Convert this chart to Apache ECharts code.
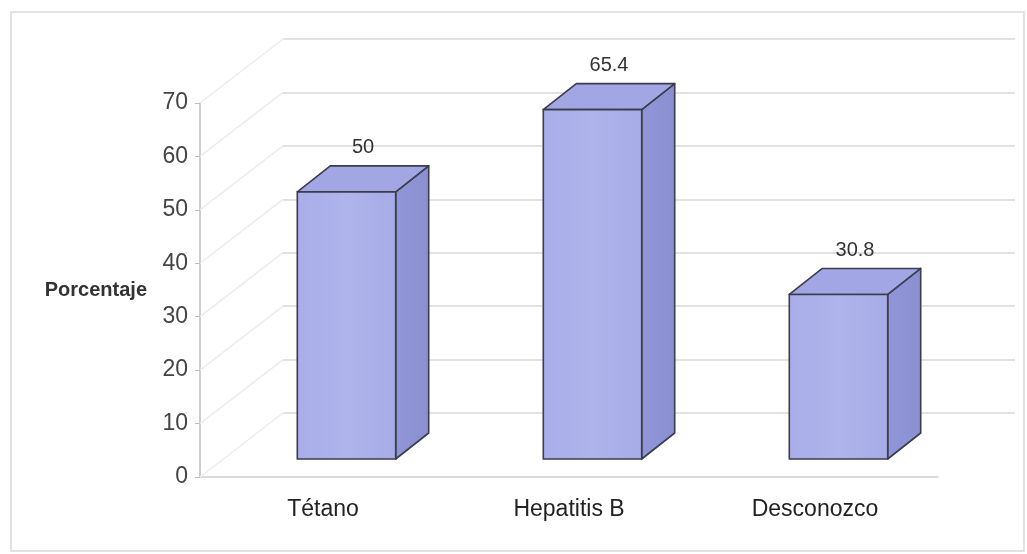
<!DOCTYPE html>
<html>
<head>
<meta charset="utf-8">
<script src="https://cdn.jsdelivr.net/npm/echarts@6/dist/echarts.min.js"></script>
<style>
  html, body { margin: 0; padding: 0; background: #fff; }
  #chart { width: 1027px; height: 554px; }
</style>
</head>
<body>
<div id="chart"></div>
<script>
// Chart data
const categories = ['Tétano', 'Hepatitis B', 'Desconozco'];
const values = [50, 65.4, 30.8];
const axisMin = 0;
const axisMax = 70;
const axisStep = 10;
const axisTitle = 'Porcentaje';

// Oblique 3D projection offsets (pixels)
const WALL_DX = 83, WALL_DY = -64;     // front plane -> back wall
const FACE_DX = 23.5, FACE_DY = -18;   // front plane -> bar front face
const DEPTH_DX = 33, DEPTH_DY = -26;   // bar front face -> bar back face
const BAR_RATIO = 0.4;

const FRONT = { left: 200, right: 89, top: 103, bottom: 77 };
const BACK = {
  left: FRONT.left + WALL_DX, right: 12,
  top: FRONT.top + WALL_DY, bottom: FRONT.bottom - WALL_DY
};

const FONT = '"Liberation Sans", Arial, sans-serif';

const tickValues = [];
for (let v = axisMin; v <= axisMax; v += axisStep) tickValues.push(v);

const chart = echarts.init(document.getElementById('chart'), null, { renderer: 'canvas' });

const edge = '#3a3d4a';

function renderBar(params, api) {
  const idx = api.value(0);
  const val = api.value(1);
  const base = api.coord([idx, 0]);
  const top = api.coord([idx, val]);
  const bw = api.size([1, 0])[0] * BAR_RATIO;
  const x0 = base[0] - bw / 2 + FACE_DX;
  const x1 = x0 + bw;
  const yT = top[1] + FACE_DY;
  const yB = base[1] + FACE_DY;
  const lw = 1.6;
  return {
    type: 'group',
    children: [
      {
        type: 'polygon',
        shape: { points: [[x1, yT], [x1 + DEPTH_DX, yT + DEPTH_DY], [x1 + DEPTH_DX, yB + DEPTH_DY], [x1, yB]] },
        style: {
          fill: new echarts.graphic.LinearGradient(0, 0, 1, 0, [
            { offset: 0, color: '#9196d8' }, { offset: 1, color: '#8a8fd2' }
          ]),
          stroke: edge, lineWidth: lw, lineJoin: 'round'
        }
      },
      {
        type: 'polygon',
        shape: { points: [[x0, yT], [x1, yT], [x1 + DEPTH_DX, yT + DEPTH_DY], [x0 + DEPTH_DX, yT + DEPTH_DY]] },
        style: { fill: '#a2a6e4', stroke: edge, lineWidth: lw, lineJoin: 'round' }
      },
      {
        type: 'rect',
        shape: { x: x0, y: yT, width: bw, height: yB - yT },
        style: {
          fill: new echarts.graphic.LinearGradient(0, 0, 1, 0, [
            { offset: 0, color: '#a9ade9' }, { offset: 0.5, color: '#b0b4ec' }, { offset: 1, color: '#a7abe6' }
          ]),
          stroke: edge, lineWidth: lw
        }
      },
      {
        type: 'text',
        style: {
          text: String(val),
          x: (x0 + x1) / 2 + DEPTH_DX / 2,
          y: yT + DEPTH_DY / 2 - 31,
          align: 'center', verticalAlign: 'middle',
          fontFamily: FONT, fontSize: 20, fill: '#333'
        }
      }
    ]
  };
}

// Faint diagonals on the left side wall joining front ticks to back gridlines
function renderSideWall(params, api) {
  const p = api.coord([0, api.value(0)]);
  const x = FRONT.left;
  return {
    type: 'line',
    shape: { x1: x, y1: p[1], x2: x + WALL_DX, y2: p[1] + WALL_DY },
    style: { stroke: '#ececec', lineWidth: 1.5 }
  };
}

const option = {
  backgroundColor: '#ffffff',
  animation: false,
  graphic: [{
    type: 'rect',
    shape: { x: 11, y: 12, width: 1013, height: 539 },
    style: { fill: 'none', stroke: '#d9d9d9', lineWidth: 1.5 },
    z: -10
  }],
  grid: [
    { left: FRONT.left, right: FRONT.right, top: FRONT.top, bottom: FRONT.bottom, containLabel: false },
    { left: BACK.left, right: BACK.right, top: BACK.top, bottom: BACK.bottom, containLabel: false }
  ],
  xAxis: [
    {
      type: 'category', gridIndex: 0, data: categories,
      axisLine: { show: true, lineStyle: { color: '#cfcfcf', width: 1.5 } },
      axisTick: { show: false },
      axisLabel: { margin: 21, fontSize: 23, color: '#222', fontFamily: FONT },
      splitLine: { show: false }
    },
    {
      type: 'category', gridIndex: 1, data: categories,
      axisLine: { show: false }, axisTick: { show: false }, axisLabel: { show: false },
      splitLine: { show: false }
    }
  ],
  yAxis: [
    {
      type: 'value', gridIndex: 0, min: axisMin, max: axisMax, interval: axisStep,
      name: axisTitle, nameLocation: 'middle', nameRotate: 0, nameGap: 53,
      nameTextStyle: {
        fontSize: 20, fontWeight: 'bold', color: '#333', align: 'right',
        fontFamily: FONT, padding: [16, 0, 0, 0]
      },
      axisLine: { show: true, lineStyle: { color: '#bdbdbd', width: 1.5 } },
      axisTick: { show: true, length: 5, lineStyle: { color: '#bdbdbd' } },
      axisLabel: { margin: 12, fontSize: 23, color: '#444', fontFamily: FONT },
      splitLine: { show: false }
    },
    {
      type: 'value', gridIndex: 1, min: axisMin, max: axisMax, interval: axisStep,
      axisLine: { show: false }, axisTick: { show: false }, axisLabel: { show: false },
      splitLine: { show: true, lineStyle: { color: '#d8d8d8', width: 1.5 } }
    }
  ],
  series: [
    {
      type: 'custom', name: 'sideWall', xAxisIndex: 0, yAxisIndex: 0,
      renderItem: renderSideWall, data: tickValues.map(v => [v]),
      encode: { y: 0 }, silent: true, z: 1
    },
    {
      type: 'custom', name: axisTitle, xAxisIndex: 0, yAxisIndex: 0,
      renderItem: renderBar,
      data: values.map((v, i) => [i, v]),
      encode: { x: 0, y: 1 }, z: 5
    }
  ]
};

chart.setOption(option);
</script>
</body>
</html>
